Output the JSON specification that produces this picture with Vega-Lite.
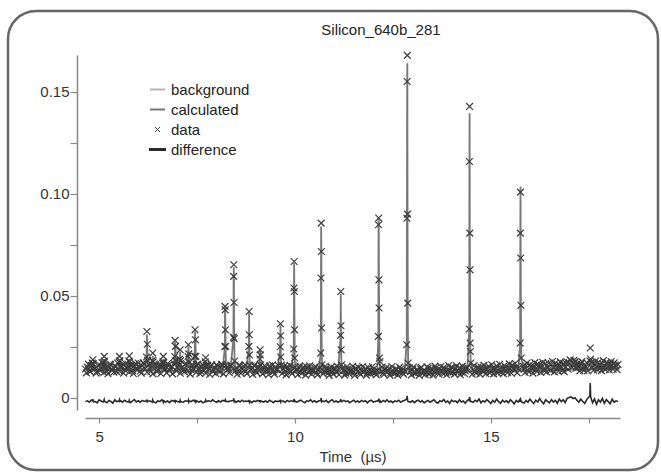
{
  "$schema": "https://vega.github.io/schema/vega-lite/v6.json",
  "width": 650,
  "height": 459,
  "autosize": "none",
  "padding": {"left": 8, "top": 11, "right": 3, "bottom": 3},
  "background": "white",
  "config": {
    "view": {"stroke": "#666666", "strokeWidth": 2.5, "cornerRadius": 28, "fill": "white"},
    "font": "Liberation Sans"
  },
  "title": {"text": "Silicon_640b_281", "font": "Liberation Sans", "fontSize": 15, "fontWeight": "normal", "color": "#222222", "anchor": "middle", "dx": 48, "offset": -39, "baseline": "alphabetic"},
  "datasets": {
    "bg": [
      {"t": 4.65, "b": 0.0138}, {"t": 6, "b": 0.0134}, {"t": 8, "b": 0.0128}, {"t": 10, "b": 0.0123},
      {"t": 12, "b": 0.0120}, {"t": 13.5, "b": 0.0121}, {"t": 15, "b": 0.0126}, {"t": 16.5, "b": 0.0134}, {"t": 18.25, "b": 0.0142}
    ],
    "o2": [
      {"t":4.675,"o":0.0122},{"t":4.725,"o":0.0165},{"t":4.775,"o":0.0128},{"t":4.825,"o":0.0170},{"t":4.875,"o":0.0140},
      {"t":4.925,"o":0.0121},{"t":4.975,"o":0.0158},{"t":5.025,"o":0.0133},{"t":5.075,"o":0.0172},{"t":5.125,"o":0.0124},
      {"t":5.175,"o":0.0149},{"t":5.225,"o":0.0118},{"t":5.275,"o":0.0165},{"t":5.325,"o":0.0138},{"t":5.375,"o":0.0125},
      {"t":5.425,"o":0.0153},{"t":5.475,"o":0.0170},{"t":5.525,"o":0.0130},{"t":5.575,"o":0.0156},{"t":5.625,"o":0.0121},
      {"t":5.675,"o":0.0168},{"t":5.725,"o":0.0142},{"t":5.775,"o":0.0126},{"t":5.825,"o":0.0160},{"t":5.875,"o":0.0119},
      {"t":5.925,"o":0.0167},{"t":5.975,"o":0.0137},{"t":6.025,"o":0.0152},{"t":6.075,"o":0.0120},{"t":6.125,"o":0.0171},
      {"t":6.175,"o":0.0143},{"t":6.225,"o":0.0125},{"t":6.275,"o":0.0162},{"t":6.325,"o":0.0130},{"t":6.375,"o":0.0117},
      {"t":6.425,"o":0.0164},{"t":6.475,"o":0.0128},{"t":6.525,"o":0.0157},{"t":6.575,"o":0.0119},{"t":6.625,"o":0.0168},
      {"t":6.675,"o":0.0139},{"t":6.725,"o":0.0122},{"t":6.775,"o":0.0160},{"t":6.825,"o":0.0145},{"t":6.875,"o":0.0117},
      {"t":6.925,"o":0.0166},{"t":6.975,"o":0.0131},{"t":7.025,"o":0.0158},{"t":7.075,"o":0.0120},{"t":7.125,"o":0.0150},
      {"t":7.175,"o":0.0127},{"t":7.225,"o":0.0168},{"t":7.275,"o":0.0134},{"t":7.325,"o":0.0116},{"t":7.375,"o":0.0163},
      {"t":7.425,"o":0.0141},{"t":7.475,"o":0.0124},{"t":7.525,"o":0.0165},{"t":7.575,"o":0.0118},{"t":7.625,"o":0.0152},
      {"t":7.675,"o":0.0133},{"t":7.725,"o":0.0121},{"t":7.775,"o":0.0160},{"t":7.825,"o":0.0115},{"t":7.875,"o":0.0162},
      {"t":7.925,"o":0.0138},{"t":7.975,"o":0.0119},{"t":8.025,"o":0.0155},{"t":8.075,"o":0.0126},{"t":8.125,"o":0.0164},
      {"t":8.175,"o":0.0117},{"t":8.275,"o":0.0150},{"t":8.325,"o":0.0123},{"t":8.375,"o":0.0158},{"t":8.475,"o":0.0131},
      {"t":8.525,"o":0.0115},{"t":8.575,"o":0.0160},{"t":8.625,"o":0.0121},{"t":8.675,"o":0.0146},{"t":8.725,"o":0.0162},
      {"t":8.775,"o":0.0118},{"t":8.875,"o":0.0139},{"t":8.925,"o":0.0114},{"t":8.975,"o":0.0160},{"t":9.025,"o":0.0122},
      {"t":9.075,"o":0.0151},{"t":9.175,"o":0.0117},{"t":9.225,"o":0.0157},{"t":9.275,"o":0.0135},{"t":9.325,"o":0.0113},
      {"t":9.375,"o":0.0149},{"t":9.425,"o":0.0161},{"t":9.475,"o":0.0116},{"t":9.525,"o":0.0140},{"t":9.575,"o":0.0158},
      {"t":9.675,"o":0.0119},{"t":9.725,"o":0.0155},{"t":9.775,"o":0.0112},{"t":9.825,"o":0.0145},{"t":9.875,"o":0.0159},
      {"t":9.925,"o":0.0118},{"t":10.025,"o":0.0137},{"t":10.075,"o":0.0113},{"t":10.125,"o":0.0156},{"t":10.175,"o":0.0120},
      {"t":10.225,"o":0.0150},{"t":10.275,"o":0.0111},{"t":10.325,"o":0.0143},{"t":10.375,"o":0.0157},{"t":10.425,"o":0.0115},
      {"t":10.475,"o":0.0136},{"t":10.525,"o":0.0153},{"t":10.575,"o":0.0112},{"t":10.625,"o":0.0147},{"t":10.725,"o":0.0118},
      {"t":10.775,"o":0.0154},{"t":10.825,"o":0.0134},{"t":10.875,"o":0.0110},{"t":10.925,"o":0.0150},{"t":10.975,"o":0.0117},
      {"t":11.025,"o":0.0139},{"t":11.075,"o":0.0155},{"t":11.125,"o":0.0113},{"t":11.225,"o":0.0146},{"t":11.275,"o":0.0111},
      {"t":11.325,"o":0.0152},{"t":11.375,"o":0.0119},{"t":11.425,"o":0.0134},{"t":11.475,"o":0.0154},{"t":11.525,"o":0.0110},
      {"t":11.575,"o":0.0141},{"t":11.625,"o":0.0149},{"t":11.675,"o":0.0114},{"t":11.725,"o":0.0153},{"t":11.775,"o":0.0131},
      {"t":11.825,"o":0.0111},{"t":11.875,"o":0.0148},{"t":11.925,"o":0.0118},{"t":11.975,"o":0.0152},{"t":12.025,"o":0.0127},
      {"t":12.075,"o":0.0112},{"t":12.225,"o":0.0150},{"t":12.275,"o":0.0114},{"t":12.325,"o":0.0146},{"t":12.375,"o":0.0131},
      {"t":12.425,"o":0.0110},{"t":12.475,"o":0.0153},{"t":12.525,"o":0.0120},{"t":12.575,"o":0.0141},{"t":12.625,"o":0.0111},
      {"t":12.675,"o":0.0150},{"t":12.725,"o":0.0133},{"t":12.775,"o":0.0115},{"t":12.925,"o":0.0147},{"t":12.975,"o":0.0112},
      {"t":13.025,"o":0.0151},{"t":13.075,"o":0.0119},{"t":13.125,"o":0.0138},{"t":13.175,"o":0.0110},{"t":13.225,"o":0.0149},
      {"t":13.275,"o":0.0129},{"t":13.325,"o":0.0114},{"t":13.375,"o":0.0152},{"t":13.425,"o":0.0116},{"t":13.475,"o":0.0144},
      {"t":13.525,"o":0.0111},{"t":13.575,"o":0.0155},{"t":13.625,"o":0.0133},{"t":13.675,"o":0.0115},{"t":13.725,"o":0.0153},
      {"t":13.775,"o":0.0120},{"t":13.825,"o":0.0141},{"t":13.875,"o":0.0113},{"t":13.925,"o":0.0158},{"t":13.975,"o":0.0122},
      {"t":14.025,"o":0.0147},{"t":14.075,"o":0.0116},{"t":14.125,"o":0.0156},{"t":14.175,"o":0.0128},{"t":14.225,"o":0.0113},
      {"t":14.275,"o":0.0155},{"t":14.325,"o":0.0119},{"t":14.375,"o":0.0143},{"t":14.525,"o":0.0115},{"t":14.575,"o":0.0158},
      {"t":14.625,"o":0.0121},{"t":14.675,"o":0.0150},{"t":14.725,"o":0.0116},{"t":14.775,"o":0.0139},{"t":14.825,"o":0.0160},
      {"t":14.875,"o":0.0118},{"t":14.925,"o":0.0147},{"t":14.975,"o":0.0122},{"t":15.025,"o":0.0162},{"t":15.075,"o":0.0117},
      {"t":15.125,"o":0.0140},{"t":15.175,"o":0.0121},{"t":15.225,"o":0.0164},{"t":15.275,"o":0.0126},{"t":15.325,"o":0.0118},
      {"t":15.375,"o":0.0150},{"t":15.425,"o":0.0123},{"t":15.475,"o":0.0166},{"t":15.525,"o":0.0120},{"t":15.575,"o":0.0145},
      {"t":15.625,"o":0.0168},{"t":15.675,"o":0.0122},{"t":15.825,"o":0.0155},{"t":15.875,"o":0.0124},{"t":15.925,"o":0.0170},
      {"t":15.975,"o":0.0126},{"t":16.025,"o":0.0150},{"t":16.075,"o":0.0121},{"t":16.125,"o":0.0172},{"t":16.175,"o":0.0129},
      {"t":16.225,"o":0.0158},{"t":16.275,"o":0.0124},{"t":16.325,"o":0.0174},{"t":16.375,"o":0.0131},{"t":16.425,"o":0.0126},
      {"t":16.475,"o":0.0169},{"t":16.525,"o":0.0133},{"t":16.575,"o":0.0178},{"t":16.625,"o":0.0127},{"t":16.675,"o":0.0158},
      {"t":16.725,"o":0.0130},{"t":16.775,"o":0.0176},{"t":16.825,"o":0.0134},{"t":16.875,"o":0.0128},{"t":16.925,"o":0.0168},
      {"t":16.975,"o":0.0140},{"t":17.025,"o":0.0186},{"t":17.075,"o":0.0150},{"t":17.125,"o":0.0184},{"t":17.175,"o":0.0144},
      {"t":17.225,"o":0.0170},{"t":17.275,"o":0.0132},{"t":17.325,"o":0.0177},{"t":17.375,"o":0.0134},{"t":17.425,"o":0.0150},
      {"t":17.475,"o":0.0132},{"t":17.575,"o":0.0174},{"t":17.625,"o":0.0135},{"t":17.675,"o":0.0180},{"t":17.725,"o":0.0137},
      {"t":17.775,"o":0.0160},{"t":17.825,"o":0.0133},{"t":17.875,"o":0.0182},{"t":17.925,"o":0.0139},{"t":17.975,"o":0.0165},
      {"t":18.025,"o":0.0136},{"t":18.075,"o":0.0178},{"t":18.125,"o":0.0140},{"t":18.175,"o":0.0160},{"t":18.225,"o":0.0138}
    ],
    "p": [
      {"t":4.65,"o":0.0141,"c":0.0138,"d":-0.0019},
      {"t":4.70,"o":0.0150,"c":0.0138,"d":-0.0015},
      {"t":4.75,"o":0.0132,"c":0.0138,"d":-0.0022},
      {"t":4.80,"o":0.0158,"c":0.0137,"d":-0.0012},
      {"t":4.83,"o":0.0160,"c":0.0150,"d":-0.0013},
      {"t":4.84,"o":0.0186,"c":0.0172,"d":-0.0007},
      {"t":4.85,"o":0.0168,"c":0.0158,"d":-0.0019},
      {"t":4.90,"o":0.0145,"c":0.0137,"d":-0.0019},
      {"t":4.95,"o":0.0128,"c":0.0137,"d":-0.0025},
      {"t":5.00,"o":0.0162,"c":0.0137,"d":-0.0010},
      {"t":5.05,"o":0.0141,"c":0.0136,"d":-0.0016},
      {"t":5.10,"o":0.0155,"c":0.0136,"d":-0.0021},
      {"t":5.12,"o":0.0172,"c":0.0160,"d":-0.0015},
      {"t":5.13,"o":0.0203,"c":0.0190,"d":-0.0009},
      {"t":5.14,"o":0.0180,"c":0.0168,"d":-0.0018},
      {"t":5.20,"o":0.0130,"c":0.0136,"d":-0.0024},
      {"t":5.25,"o":0.0149,"c":0.0136,"d":-0.0013},
      {"t":5.30,"o":0.0162,"c":0.0136,"d":-0.0018},
      {"t":5.35,"o":0.0137,"c":0.0136,"d":-0.0027},
      {"t":5.40,"o":0.0155,"c":0.0135,"d":-0.0010},
      {"t":5.45,"o":0.0128,"c":0.0135,"d":-0.0019},
      {"t":5.51,"o":0.0175,"c":0.0162,"d":-0.0016},
      {"t":5.52,"o":0.0203,"c":0.0188,"d":-0.0010},
      {"t":5.53,"o":0.0182,"c":0.0166,"d":-0.0018},
      {"t":5.55,"o":0.0150,"c":0.0140,"d":-0.0015},
      {"t":5.60,"o":0.0164,"c":0.0135,"d":-0.0022},
      {"t":5.65,"o":0.0138,"c":0.0135,"d":-0.0012},
      {"t":5.70,"o":0.0152,"c":0.0135,"d":-0.0018},
      {"t":5.76,"o":0.0180,"c":0.0165,"d":-0.0021},
      {"t":5.77,"o":0.0205,"c":0.0190,"d":-0.0013},
      {"t":5.78,"o":0.0176,"c":0.0165,"d":-0.0019},
      {"t":5.80,"o":0.0160,"c":0.0140,"d":-0.0024},
      {"t":5.85,"o":0.0133,"c":0.0134,"d":-0.0016},
      {"t":5.90,"o":0.0158,"c":0.0134,"d":-0.0009},
      {"t":5.95,"o":0.0144,"c":0.0134,"d":-0.0021},
      {"t":6.00,"o":0.0170,"c":0.0134,"d":-0.0015},
      {"t":6.05,"o":0.0131,"c":0.0134,"d":-0.0022},
      {"t":6.10,"o":0.0156,"c":0.0133,"d":-0.0013},
      {"t":6.15,"o":0.0166,"c":0.0135,"d":-0.0018},
      {"t":6.21,"o":0.0200,"c":0.0190,"d":-0.0015},
      {"t":6.22,"o":0.0325,"c":0.0310,"d":-0.0009},
      {"t":6.23,"o":0.0262,"c":0.0255,"d":-0.0019},
      {"t":6.24,"o":0.0182,"c":0.0180,"d":-0.0016},
      {"t":6.30,"o":0.0148,"c":0.0138,"d":-0.0016},
      {"t":6.36,"o":0.0182,"c":0.0170,"d":-0.0021},
      {"t":6.37,"o":0.0219,"c":0.0205,"d":-0.0012},
      {"t":6.38,"o":0.0176,"c":0.0168,"d":-0.0018},
      {"t":6.45,"o":0.0160,"c":0.0133,"d":-0.0025},
      {"t":6.50,"o":0.0138,"c":0.0133,"d":-0.0015},
      {"t":6.55,"o":0.0165,"c":0.0133,"d":-0.0019},
      {"t":6.60,"o":0.0150,"c":0.0133,"d":-0.0010},
      {"t":6.63,"o":0.0176,"c":0.0165,"d":-0.0016},
      {"t":6.64,"o":0.0203,"c":0.0190,"d":-0.0022},
      {"t":6.65,"o":0.0172,"c":0.0162,"d":-0.0015},
      {"t":6.70,"o":0.0142,"c":0.0132,"d":-0.0021},
      {"t":6.75,"o":0.0168,"c":0.0132,"d":-0.0016},
      {"t":6.80,"o":0.0134,"c":0.0132,"d":-0.0024},
      {"t":6.85,"o":0.0155,"c":0.0132,"d":-0.0013},
      {"t":6.93,"o":0.0202,"c":0.0195,"d":-0.0018},
      {"t":6.94,"o":0.0281,"c":0.0272,"d":-0.0010},
      {"t":6.95,"o":0.0252,"c":0.0245,"d":-0.0019},
      {"t":6.96,"o":0.0182,"c":0.0175,"d":-0.0015},
      {"t":7.00,"o":0.0147,"c":0.0135,"d":-0.0018},
      {"t":7.06,"o":0.0190,"c":0.0180,"d":-0.0022},
      {"t":7.07,"o":0.0235,"c":0.0225,"d":-0.0013},
      {"t":7.08,"o":0.0182,"c":0.0175,"d":-0.0019},
      {"t":7.15,"o":0.0140,"c":0.0131,"d":-0.0022},
      {"t":7.20,"o":0.0163,"c":0.0131,"d":-0.0015},
      {"t":7.27,"o":0.0202,"c":0.0195,"d":-0.0018},
      {"t":7.28,"o":0.0260,"c":0.0252,"d":-0.0012},
      {"t":7.29,"o":0.0215,"c":0.0210,"d":-0.0021},
      {"t":7.30,"o":0.0172,"c":0.0165,"d":-0.0016},
      {"t":7.35,"o":0.0136,"c":0.0130,"d":-0.0019},
      {"t":7.40,"o":0.0158,"c":0.0132,"d":-0.0012},
      {"t":7.44,"o":0.0203,"c":0.0200,"d":-0.0018},
      {"t":7.45,"o":0.0333,"c":0.0325,"d":-0.0009},
      {"t":7.46,"o":0.0284,"c":0.0280,"d":-0.0016},
      {"t":7.47,"o":0.0203,"c":0.0200,"d":-0.0021},
      {"t":7.48,"o":0.0162,"c":0.0160,"d":-0.0015},
      {"t":7.55,"o":0.0145,"c":0.0130,"d":-0.0021},
      {"t":7.60,"o":0.0130,"c":0.0130,"d":-0.0016},
      {"t":7.65,"o":0.0160,"c":0.0130,"d":-0.0025},
      {"t":7.71,"o":0.0176,"c":0.0165,"d":-0.0018},
      {"t":7.72,"o":0.0196,"c":0.0185,"d":-0.0012},
      {"t":7.73,"o":0.0160,"c":0.0155,"d":-0.0019},
      {"t":7.80,"o":0.0142,"c":0.0129,"d":-0.0015},
      {"t":7.85,"o":0.0155,"c":0.0129,"d":-0.0019},
      {"t":7.90,"o":0.0128,"c":0.0129,"d":-0.0010},
      {"t":7.95,"o":0.0148,"c":0.0128,"d":-0.0018},
      {"t":8.00,"o":0.0162,"c":0.0128,"d":-0.0022},
      {"t":8.05,"o":0.0137,"c":0.0128,"d":-0.0015},
      {"t":8.10,"o":0.0151,"c":0.0128,"d":-0.0021},
      {"t":8.15,"o":0.0160,"c":0.0130,"d":-0.0013},
      {"t":8.210,"o":0.0250,"c":0.0245,"d":-0.0016},
      {"t":8.215,"o":0.0448,"c":0.0440,"d":-0.0009},
      {"t":8.220,"o":0.0431,"c":0.0425,"d":-0.0015},
      {"t":8.225,"o":0.0333,"c":0.0330,"d":-0.0019},
      {"t":8.230,"o":0.0252,"c":0.0250,"d":-0.0013},
      {"t":8.240,"o":0.0160,"c":0.0158,"d":-0.0018},
      {"t":8.30,"o":0.0140,"c":0.0128,"d":-0.0019},
      {"t":8.35,"o":0.0155,"c":0.0130,"d":-0.0016},
      {"t":8.430,"o":0.0297,"c":0.0290,"d":-0.0013},
      {"t":8.435,"o":0.0595,"c":0.0590,"d":-0.0007},
      {"t":8.440,"o":0.0652,"c":0.0640,"d":-0.0003},
      {"t":8.445,"o":0.0467,"c":0.0470,"d":-0.0015},
      {"t":8.450,"o":0.0290,"c":0.0292,"d":-0.0019},
      {"t":8.460,"o":0.0180,"c":0.0175,"d":-0.0016},
      {"t":8.50,"o":0.0146,"c":0.0127,"d":-0.0022},
      {"t":8.55,"o":0.0132,"c":0.0127,"d":-0.0015},
      {"t":8.60,"o":0.0158,"c":0.0127,"d":-0.0021},
      {"t":8.65,"o":0.0140,"c":0.0127,"d":-0.0012},
      {"t":8.70,"o":0.0153,"c":0.0127,"d":-0.0019},
      {"t":8.75,"o":0.0130,"c":0.0127,"d":-0.0016},
      {"t":8.825,"o":0.0252,"c":0.0250,"d":-0.0018},
      {"t":8.830,"o":0.0423,"c":0.0418,"d":-0.0010},
      {"t":8.835,"o":0.0309,"c":0.0310,"d":-0.0015},
      {"t":8.840,"o":0.0210,"c":0.0210,"d":-0.0021},
      {"t":8.850,"o":0.0160,"c":0.0155,"d":-0.0016},
      {"t":8.90,"o":0.0145,"c":0.0126,"d":-0.0024},
      {"t":8.95,"o":0.0157,"c":0.0126,"d":-0.0015},
      {"t":9.00,"o":0.0131,"c":0.0126,"d":-0.0019},
      {"t":9.05,"o":0.0149,"c":0.0126,"d":-0.0013},
      {"t":9.105,"o":0.0190,"c":0.0185,"d":-0.0018},
      {"t":9.110,"o":0.0235,"c":0.0230,"d":-0.0012},
      {"t":9.115,"o":0.0210,"c":0.0205,"d":-0.0019},
      {"t":9.125,"o":0.0160,"c":0.0155,"d":-0.0016},
      {"t":9.20,"o":0.0138,"c":0.0125,"d":-0.0021},
      {"t":9.25,"o":0.0152,"c":0.0125,"d":-0.0016},
      {"t":9.30,"o":0.0129,"c":0.0125,"d":-0.0022},
      {"t":9.35,"o":0.0156,"c":0.0125,"d":-0.0012},
      {"t":9.40,"o":0.0141,"c":0.0125,"d":-0.0018},
      {"t":9.45,"o":0.0128,"c":0.0124,"d":-0.0024},
      {"t":9.50,"o":0.0150,"c":0.0124,"d":-0.0015},
      {"t":9.55,"o":0.0136,"c":0.0124,"d":-0.0019},
      {"t":9.625,"o":0.0250,"c":0.0245,"d":-0.0015},
      {"t":9.630,"o":0.0363,"c":0.0355,"d":-0.0009},
      {"t":9.635,"o":0.0304,"c":0.0300,"d":-0.0018},
      {"t":9.640,"o":0.0200,"c":0.0200,"d":-0.0021},
      {"t":9.650,"o":0.0160,"c":0.0155,"d":-0.0015},
      {"t":9.70,"o":0.0142,"c":0.0124,"d":-0.0016},
      {"t":9.75,"o":0.0130,"c":0.0124,"d":-0.0022},
      {"t":9.80,"o":0.0153,"c":0.0124,"d":-0.0013},
      {"t":9.85,"o":0.0138,"c":0.0124,"d":-0.0019},
      {"t":9.90,"o":0.0126,"c":0.0124,"d":-0.0015},
      {"t":9.970,"o":0.0239,"c":0.0240,"d":-0.0018},
      {"t":9.975,"o":0.0538,"c":0.0530,"d":-0.0010},
      {"t":9.980,"o":0.0668,"c":0.0660,"d":-0.0006},
      {"t":9.985,"o":0.0521,"c":0.0525,"d":-0.0016},
      {"t":9.990,"o":0.0333,"c":0.0335,"d":-0.0021},
      {"t":9.995,"o":0.0195,"c":0.0195,"d":-0.0013},
      {"t":10.005,"o":0.0150,"c":0.0150,"d":-0.0018},
      {"t":10.05,"o":0.0135,"c":0.0123,"d":-0.0021},
      {"t":10.10,"o":0.0148,"c":0.0123,"d":-0.0016},
      {"t":10.15,"o":0.0127,"c":0.0123,"d":-0.0012},
      {"t":10.20,"o":0.0144,"c":0.0123,"d":-0.0019},
      {"t":10.25,"o":0.0131,"c":0.0122,"d":-0.0024},
      {"t":10.30,"o":0.0152,"c":0.0122,"d":-0.0015},
      {"t":10.35,"o":0.0125,"c":0.0122,"d":-0.0018},
      {"t":10.40,"o":0.0140,"c":0.0122,"d":-0.0010},
      {"t":10.45,"o":0.0133,"c":0.0122,"d":-0.0021},
      {"t":10.50,"o":0.0147,"c":0.0122,"d":-0.0015},
      {"t":10.55,"o":0.0124,"c":0.0122,"d":-0.0022},
      {"t":10.60,"o":0.0138,"c":0.0122,"d":-0.0016},
      {"t":10.660,"o":0.0219,"c":0.0220,"d":-0.0013},
      {"t":10.665,"o":0.0587,"c":0.0580,"d":-0.0007},
      {"t":10.670,"o":0.0856,"c":0.0840,"d":-0.0001},
      {"t":10.675,"o":0.0717,"c":0.0720,"d":-0.0015},
      {"t":10.680,"o":0.0342,"c":0.0345,"d":-0.0019},
      {"t":10.690,"o":0.0162,"c":0.0160,"d":-0.0016},
      {"t":10.75,"o":0.0130,"c":0.0121,"d":-0.0019},
      {"t":10.80,"o":0.0143,"c":0.0121,"d":-0.0013},
      {"t":10.85,"o":0.0122,"c":0.0121,"d":-0.0024},
      {"t":10.90,"o":0.0139,"c":0.0121,"d":-0.0015},
      {"t":10.95,"o":0.0128,"c":0.0121,"d":-0.0010},
      {"t":11.00,"o":0.0146,"c":0.0121,"d":-0.0021},
      {"t":11.05,"o":0.0125,"c":0.0121,"d":-0.0016},
      {"t":11.10,"o":0.0136,"c":0.0121,"d":-0.0022},
      {"t":11.165,"o":0.0306,"c":0.0300,"d":-0.0015},
      {"t":11.170,"o":0.0521,"c":0.0510,"d":-0.0007},
      {"t":11.175,"o":0.0353,"c":0.0355,"d":-0.0018},
      {"t":11.180,"o":0.0235,"c":0.0235,"d":-0.0013},
      {"t":11.190,"o":0.0162,"c":0.0158,"d":-0.0019},
      {"t":11.25,"o":0.0133,"c":0.0121,"d":-0.0013},
      {"t":11.30,"o":0.0121,"c":0.0121,"d":-0.0019},
      {"t":11.35,"o":0.0141,"c":0.0120,"d":-0.0015},
      {"t":11.40,"o":0.0127,"c":0.0120,"d":-0.0024},
      {"t":11.45,"o":0.0138,"c":0.0120,"d":-0.0018},
      {"t":11.50,"o":0.0124,"c":0.0120,"d":-0.0012},
      {"t":11.55,"o":0.0144,"c":0.0120,"d":-0.0021},
      {"t":11.60,"o":0.0129,"c":0.0120,"d":-0.0016},
      {"t":11.65,"o":0.0120,"c":0.0120,"d":-0.0022},
      {"t":11.70,"o":0.0137,"c":0.0120,"d":-0.0013},
      {"t":11.75,"o":0.0126,"c":0.0120,"d":-0.0019},
      {"t":11.80,"o":0.0142,"c":0.0120,"d":-0.0015},
      {"t":11.85,"o":0.0122,"c":0.0120,"d":-0.0025},
      {"t":11.90,"o":0.0135,"c":0.0120,"d":-0.0016},
      {"t":11.95,"o":0.0128,"c":0.0120,"d":-0.0012},
      {"t":12.00,"o":0.0140,"c":0.0120,"d":-0.0021},
      {"t":12.05,"o":0.0123,"c":0.0120,"d":-0.0018},
      {"t":12.10,"o":0.0134,"c":0.0121,"d":-0.0015},
      {"t":12.130,"o":0.0301,"c":0.0300,"d":-0.0016},
      {"t":12.135,"o":0.0848,"c":0.0850,"d":-0.0010},
      {"t":12.140,"o":0.0881,"c":0.0880,"d":-0.0004},
      {"t":12.145,"o":0.0578,"c":0.0585,"d":-0.0018},
      {"t":12.150,"o":0.0440,"c":0.0440,"d":-0.0013},
      {"t":12.160,"o":0.0195,"c":0.0195,"d":-0.0019},
      {"t":12.170,"o":0.0178,"c":0.0160,"d":-0.0015},
      {"t":12.20,"o":0.0130,"c":0.0120,"d":-0.0022},
      {"t":12.25,"o":0.0121,"c":0.0120,"d":-0.0013},
      {"t":12.30,"o":0.0139,"c":0.0120,"d":-0.0019},
      {"t":12.35,"o":0.0126,"c":0.0120,"d":-0.0010},
      {"t":12.40,"o":0.0143,"c":0.0120,"d":-0.0021},
      {"t":12.45,"o":0.0124,"c":0.0120,"d":-0.0016},
      {"t":12.50,"o":0.0135,"c":0.0120,"d":-0.0024},
      {"t":12.55,"o":0.0119,"c":0.0120,"d":-0.0015},
      {"t":12.60,"o":0.0138,"c":0.0120,"d":-0.0019},
      {"t":12.65,"o":0.0127,"c":0.0120,"d":-0.0012},
      {"t":12.70,"o":0.0141,"c":0.0120,"d":-0.0022},
      {"t":12.75,"o":0.0123,"c":0.0120,"d":-0.0016},
      {"t":12.80,"o":0.0133,"c":0.0121,"d":-0.0013},
      {"t":12.855,"o":0.0260,"c":0.0280,"d":-0.0006},
      {"t":12.860,"o":0.0880,"c":0.0900,"d":0.0001},
      {"t":12.865,"o":0.1550,"c":0.1500,"d":0.0010},
      {"t":12.870,"o":0.1678,"c":0.1640,"d":-0.0003},
      {"t":12.875,"o":0.0900,"c":0.0950,"d":-0.0009},
      {"t":12.880,"o":0.0464,"c":0.0460,"d":-0.0015},
      {"t":12.890,"o":0.0170,"c":0.0180,"d":-0.0019},
      {"t":12.95,"o":0.0128,"c":0.0120,"d":-0.0021},
      {"t":13.00,"o":0.0140,"c":0.0120,"d":-0.0015},
      {"t":13.05,"o":0.0122,"c":0.0120,"d":-0.0024},
      {"t":13.10,"o":0.0136,"c":0.0120,"d":-0.0016},
      {"t":13.15,"o":0.0125,"c":0.0120,"d":-0.0012},
      {"t":13.20,"o":0.0142,"c":0.0120,"d":-0.0021},
      {"t":13.25,"o":0.0121,"c":0.0120,"d":-0.0015},
      {"t":13.30,"o":0.0134,"c":0.0120,"d":-0.0025},
      {"t":13.35,"o":0.0127,"c":0.0120,"d":-0.0018},
      {"t":13.40,"o":0.0145,"c":0.0120,"d":-0.0013},
      {"t":13.45,"o":0.0124,"c":0.0121,"d":-0.0022},
      {"t":13.50,"o":0.0137,"c":0.0121,"d":-0.0016},
      {"t":13.55,"o":0.0129,"c":0.0121,"d":-0.0010},
      {"t":13.60,"o":0.0146,"c":0.0121,"d":-0.0021},
      {"t":13.65,"o":0.0123,"c":0.0122,"d":-0.0027},
      {"t":13.70,"o":0.0140,"c":0.0122,"d":-0.0015},
      {"t":13.75,"o":0.0131,"c":0.0122,"d":-0.0019},
      {"t":13.80,"o":0.0148,"c":0.0122,"d":-0.0009},
      {"t":13.85,"o":0.0125,"c":0.0123,"d":-0.0022},
      {"t":13.90,"o":0.0139,"c":0.0123,"d":-0.0016},
      {"t":13.95,"o":0.0132,"c":0.0123,"d":-0.0028},
      {"t":14.00,"o":0.0150,"c":0.0123,"d":-0.0012},
      {"t":14.05,"o":0.0127,"c":0.0123,"d":-0.0019},
      {"t":14.10,"o":0.0142,"c":0.0123,"d":-0.0015},
      {"t":14.15,"o":0.0134,"c":0.0124,"d":-0.0024},
      {"t":14.20,"o":0.0147,"c":0.0124,"d":-0.0010},
      {"t":14.25,"o":0.0126,"c":0.0124,"d":-0.0021},
      {"t":14.30,"o":0.0140,"c":0.0124,"d":-0.0016},
      {"t":14.35,"o":0.0131,"c":0.0124,"d":-0.0027},
      {"t":14.40,"o":0.0149,"c":0.0125,"d":-0.0013},
      {"t":14.450,"o":0.0337,"c":0.0340,"d":-0.0009},
      {"t":14.455,"o":0.1158,"c":0.1150,"d":0.0000},
      {"t":14.460,"o":0.1428,"c":0.1395,"d":0.0004},
      {"t":14.465,"o":0.0807,"c":0.0820,"d":-0.0013},
      {"t":14.470,"o":0.0627,"c":0.0620,"d":-0.0004},
      {"t":14.475,"o":0.0268,"c":0.0275,"d":-0.0022},
      {"t":14.480,"o":0.0227,"c":0.0225,"d":-0.0012},
      {"t":14.490,"o":0.0170,"c":0.0165,"d":-0.0018},
      {"t":14.55,"o":0.0138,"c":0.0125,"d":-0.0022},
      {"t":14.60,"o":0.0128,"c":0.0125,"d":-0.0012},
      {"t":14.65,"o":0.0146,"c":0.0125,"d":-0.0019},
      {"t":14.70,"o":0.0133,"c":0.0125,"d":-0.0006},
      {"t":14.75,"o":0.0151,"c":0.0126,"d":-0.0025},
      {"t":14.80,"o":0.0129,"c":0.0126,"d":-0.0015},
      {"t":14.85,"o":0.0143,"c":0.0126,"d":-0.0021},
      {"t":14.90,"o":0.0136,"c":0.0126,"d":-0.0009},
      {"t":14.95,"o":0.0154,"c":0.0127,"d":-0.0018},
      {"t":15.00,"o":0.0131,"c":0.0127,"d":-0.0028},
      {"t":15.05,"o":0.0145,"c":0.0127,"d":-0.0013},
      {"t":15.10,"o":0.0138,"c":0.0127,"d":-0.0022},
      {"t":15.15,"o":0.0156,"c":0.0127,"d":-0.0007},
      {"t":15.20,"o":0.0132,"c":0.0127,"d":-0.0019},
      {"t":15.25,"o":0.0147,"c":0.0128,"d":-0.0027},
      {"t":15.30,"o":0.0140,"c":0.0128,"d":-0.0012},
      {"t":15.35,"o":0.0158,"c":0.0128,"d":-0.0021},
      {"t":15.40,"o":0.0134,"c":0.0128,"d":-0.0015},
      {"t":15.45,"o":0.0149,"c":0.0128,"d":-0.0024},
      {"t":15.50,"o":0.0142,"c":0.0128,"d":-0.0010},
      {"t":15.55,"o":0.0160,"c":0.0129,"d":-0.0019},
      {"t":15.60,"o":0.0136,"c":0.0129,"d":-0.0030},
      {"t":15.65,"o":0.0151,"c":0.0129,"d":-0.0013},
      {"t":15.70,"o":0.0144,"c":0.0130,"d":-0.0021},
      {"t":15.750,"o":0.0268,"c":0.0270,"d":-0.0007},
      {"t":15.755,"o":0.0807,"c":0.0800,"d":-0.0021},
      {"t":15.760,"o":0.1008,"c":0.1036,"d":-0.0003},
      {"t":15.765,"o":0.0685,"c":0.0700,"d":-0.0015},
      {"t":15.770,"o":0.0453,"c":0.0455,"d":-0.0010},
      {"t":15.780,"o":0.0195,"c":0.0195,"d":-0.0019},
      {"t":15.85,"o":0.0140,"c":0.0130,"d":-0.0027},
      {"t":15.90,"o":0.0157,"c":0.0130,"d":-0.0013},
      {"t":15.95,"o":0.0135,"c":0.0131,"d":-0.0022},
      {"t":16.00,"o":0.0162,"c":0.0131,"d":-0.0007},
      {"t":16.05,"o":0.0143,"c":0.0131,"d":-0.0018},
      {"t":16.10,"o":0.0155,"c":0.0132,"d":-0.0028},
      {"t":16.15,"o":0.0137,"c":0.0132,"d":-0.0012},
      {"t":16.20,"o":0.0165,"c":0.0132,"d":-0.0021},
      {"t":16.25,"o":0.0146,"c":0.0133,"d":-0.0004},
      {"t":16.30,"o":0.0159,"c":0.0133,"d":-0.0019},
      {"t":16.35,"o":0.0139,"c":0.0133,"d":-0.0030},
      {"t":16.40,"o":0.0168,"c":0.0134,"d":-0.0010},
      {"t":16.45,"o":0.0150,"c":0.0134,"d":-0.0018},
      {"t":16.50,"o":0.0142,"c":0.0134,"d":-0.0025},
      {"t":16.55,"o":0.0163,"c":0.0134,"d":-0.0009},
      {"t":16.60,"o":0.0148,"c":0.0135,"d":-0.0021},
      {"t":16.65,"o":0.0170,"c":0.0135,"d":-0.0013},
      {"t":16.70,"o":0.0145,"c":0.0135,"d":-0.0027},
      {"t":16.75,"o":0.0161,"c":0.0135,"d":-0.0006},
      {"t":16.80,"o":0.0152,"c":0.0136,"d":-0.0019},
      {"t":16.85,"o":0.0167,"c":0.0136,"d":-0.0010},
      {"t":16.90,"o":0.0147,"c":0.0136,"d":-0.0024},
      {"t":16.95,"o":0.0175,"c":0.0136,"d":-0.0003},
      {"t":17.00,"o":0.0172,"c":0.0137,"d":0.0001},
      {"t":17.05,"o":0.0180,"c":0.0140,"d":0.0004},
      {"t":17.10,"o":0.0168,"c":0.0142,"d":-0.0004},
      {"t":17.15,"o":0.0176,"c":0.0142,"d":0.0000},
      {"t":17.20,"o":0.0158,"c":0.0140,"d":-0.0012},
      {"t":17.25,"o":0.0150,"c":0.0138,"d":-0.0022},
      {"t":17.30,"o":0.0166,"c":0.0138,"d":-0.0007},
      {"t":17.35,"o":0.0143,"c":0.0138,"d":-0.0018},
      {"t":17.40,"o":0.0160,"c":0.0138,"d":-0.0028},
      {"t":17.45,"o":0.0172,"c":0.0138,"d":-0.0009},
      {"t":17.53,"o":0.0180,"c":0.0160,"d":0.0010},
      {"t":17.54,"o":0.0244,"c":0.0190,"d":0.0072},
      {"t":17.55,"o":0.0190,"c":0.0170,"d":0.0005},
      {"t":17.60,"o":0.0148,"c":0.0139,"d":-0.0024},
      {"t":17.65,"o":0.0165,"c":0.0139,"d":-0.0006},
      {"t":17.70,"o":0.0153,"c":0.0139,"d":-0.0032},
      {"t":17.75,"o":0.0174,"c":0.0140,"d":-0.0010},
      {"t":17.80,"o":0.0146,"c":0.0140,"d":-0.0021},
      {"t":17.85,"o":0.0168,"c":0.0140,"d":-0.0003},
      {"t":17.90,"o":0.0157,"c":0.0141,"d":-0.0027},
      {"t":17.95,"o":0.0172,"c":0.0141,"d":-0.0009},
      {"t":18.00,"o":0.0150,"c":0.0141,"d":-0.0019},
      {"t":18.05,"o":0.0166,"c":0.0141,"d":-0.0030},
      {"t":18.10,"o":0.0159,"c":0.0142,"d":-0.0007},
      {"t":18.15,"o":0.0171,"c":0.0142,"d":-0.0022},
      {"t":18.20,"o":0.0155,"c":0.0142,"d":-0.0015},
      {"t":18.25,"o":0.0163,"c":0.0142,"d":-0.0019}
    ]
  },
  "encoding": {
    "x": {
      "field": "t", "type": "quantitative",
      "scale": {"domain": [4.64, 18.3], "range": [77, 612], "zero": false, "nice": false},
      "axis": {
        "title": "Time\u00a0 (µs)", "values": [5, 7.5, 10, 12.5, 15, 17.5],
        "labelExpr": "datum.value % 5 === 0 ? format(datum.value, 'd') : ''",
        "offset": -52, "grid": false, "tickSize": 5, "labelPadding": 6,
        "domainColor": "#888888", "tickColor": "#888888", "domainWidth": 1.5, "tickWidth": 1.2,
        "labelFont": "Liberation Sans", "labelFontSize": 15, "labelColor": "#333333", "labelOverlap": false,
        "titleFont": "Liberation Sans", "titleFontSize": 15, "titleFontWeight": "normal", "titleColor": "#333333", "titlePadding": 5
      }
    }
  },
  "layer": [
    {
      "data": {"name": "bg"},
      "mark": {"type": "line", "strokeWidth": 1.5},
      "encoding": {
        "y": {
          "field": "b", "type": "quantitative",
          "scale": {"domain": [-0.006, 0.168], "range": [399, 44], "zero": false, "nice": false},
          "axis": {
            "title": null, "values": [0, 0.025, 0.05, 0.075, 0.1, 0.125, 0.15],
            "labelExpr": "datum.value === 0 ? '0' : (round(datum.value * 1000) % 50 === 0 ? format(datum.value, '.2f') : '')",
            "offset": -69, "grid": false, "tickSize": 7, "labelPadding": 1,
            "domainColor": "#888888", "tickColor": "#888888", "domainWidth": 1.5, "tickWidth": 1.2,
            "labelFont": "Liberation Sans", "labelFontSize": 15, "labelColor": "#333333", "labelOverlap": false
          }
        },
        "color": {
          "datum": "background", "type": "nominal",
          "scale": {"domain": ["background", "calculated", "data", "difference"], "range": ["#b4b4b4", "#777777", "#3c3c3c", "#2a2a2a"]},
          "legend": {
            "orient": "none", "legendX": 142, "legendY": 71, "title": null, "padding": 0,
            "rowPadding": 4, "symbolSize": 225, "symbolType": "stroke",
            "labelFont": "Liberation Sans", "labelFontSize": 15, "labelColor": "#222222", "labelOffset": 6,
            "encode": {
              "symbols": {
                "update": {
                  "shape": {"signal": "datum.value === 'data' ? 'M-1,-1L1,1M1,-1L-1,1' : 'stroke'"},
                  "size": {"signal": "datum.value === 'data' ? 25 : (datum.value === 'difference' ? 290 : 225)"},
                  "strokeWidth": {"signal": "datum.value === 'difference' ? 3 : (datum.value === 'data' ? 1 : 2)"},
                  "stroke": {"signal": "scale('color', datum.value)"},
                  "fill": {"value": "transparent"}
                }
              }
            }
          }
        }
      }
    },
    {
      "data": {"name": "p"},
      "mark": {"type": "line", "strokeWidth": 1.8},
      "encoding": {
        "y": {"field": "c", "type": "quantitative"},
        "color": {"datum": "calculated", "type": "nominal"}
      }
    },
    {
      "data": {"name": "o2"},
      "mark": {"type": "point", "shape": "M-1,-1L1,1M1,-1L-1,1", "filled": false, "size": 46, "strokeWidth": 1.2, "opacity": 1},
      "encoding": {
        "y": {"field": "o", "type": "quantitative"},
        "color": {"datum": "data", "type": "nominal"}
      }
    },
    {
      "data": {"name": "p"},
      "mark": {"type": "point", "shape": "M-1,-1L1,1M1,-1L-1,1", "filled": false, "size": 46, "strokeWidth": 1.2, "opacity": 1},
      "encoding": {
        "y": {"field": "o", "type": "quantitative"},
        "color": {"datum": "data", "type": "nominal"}
      }
    },
    {
      "data": {"name": "p"},
      "mark": {"type": "line", "strokeWidth": 1.6},
      "encoding": {
        "y": {"field": "d", "type": "quantitative"},
        "color": {"datum": "difference", "type": "nominal"}
      }
    }
  ]
}
